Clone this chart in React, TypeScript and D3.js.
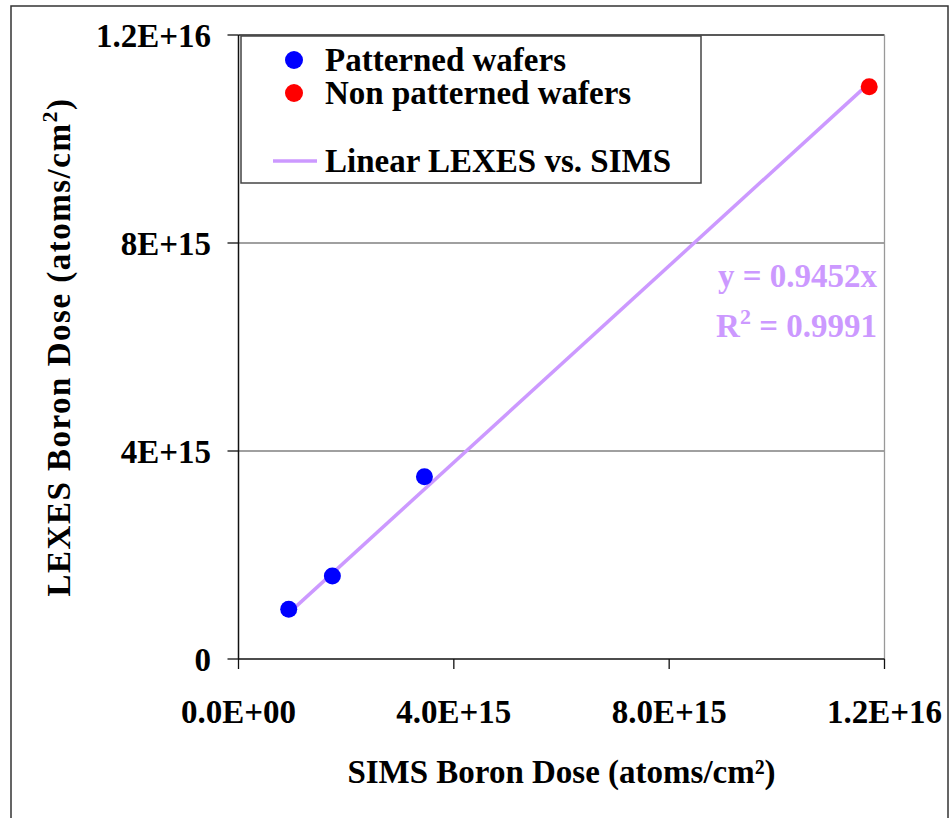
import React from "react";
import * as d3 from "d3";

const patternedX = [0.933e15, 1.744e15, 3.454e15];
const patternedY = [0.956e15, 1.596e15, 3.506e15];
const nonPatternedX = [11.716e15];
const nonPatternedY = [11.006e15];
const slope = 0.9452;
const r2Text = "0.9991";
const xTickValues = [0, 4e15, 8e15, 1.2e16];
const xTickLabels = ["0.0E+00", "4.0E+15", "8.0E+15", "1.2E+16"];
const yTickValues = [0, 4e15, 8e15, 1.2e16];
const yTickLabels = ["0", "4E+15", "8E+15", "1.2E+16"];
const legendLabels = ["Patterned wafers", "Non patterned wafers", "Linear LEXES vs. SIMS"];

const W = 950;
const H = 818;
const L = 238.5;
const R = 884.5;
const T = 35;
const B = 659;
const FONT = "'Liberation Serif', 'Times New Roman', serif";
const PURPLE = "#CC99FF";

export default function App() {
  const x = d3.scaleLinear().domain([0, 1.2e16]).range([L, R]);
  const y = d3.scaleLinear().domain([0, 1.2e16]).range([B, T]);
  const allX = [...patternedX, ...nonPatternedX];
  const xMin = d3.min(allX) as number;
  const xMax = d3.max(allX) as number;
  const trend = d3.line<number>().x((v) => x(v)).y((v) => y(slope * v))([xMin, xMax]) as string;

  return (
    <svg
      width={W}
      height={H}
      style={{ position: "absolute", left: 0, top: 0, background: "#fff" }}
      fontFamily={FONT}
      fontWeight="bold"
    >
      <rect x={0} y={0} width={W} height={H} fill="#fff" />
      <rect x={11} y={6} width={937} height={830} fill="none" stroke="#333" strokeWidth={1.5} />

      {/* gridlines */}
      {yTickValues.slice(1).map((v, i) => (
        <line key={"g" + i} x1={L} x2={R} y1={y(v)} y2={y(v)} stroke={i === 2 ? "#222" : "#808080"} strokeWidth={1.3} />
      ))}
      {/* plot right border */}
      <line x1={R} x2={R} y1={T} y2={B} stroke="#999" strokeWidth={1.3} />

      {/* axes */}
      <line x1={L} x2={L} y1={T} y2={B} stroke="#111" strokeWidth={1.5} />
      <line x1={L} x2={R} y1={B} y2={B} stroke="#111" strokeWidth={1.5} />
      {yTickValues.map((v, i) => (
        <g key={"yt" + i}>
          <line x1={L - 11} x2={L} y1={y(v)} y2={y(v)} stroke="#111" strokeWidth={1.3} />
          <text x={211} y={y(v) + 12} textAnchor="end" fontSize={33} fill="#000">
            {yTickLabels[i]}
          </text>
        </g>
      ))}
      {xTickValues.map((v, i) => (
        <g key={"xt" + i}>
          <line x1={x(v)} x2={x(v)} y1={B} y2={B + 10} stroke="#111" strokeWidth={1.3} />
          <text x={x(v)} y={B + 64} textAnchor="middle" fontSize={33} fill="#000">
            {xTickLabels[i]}
          </text>
        </g>
      ))}

      {/* axis titles */}
      <text x={(L + R) / 2} y={783} textAnchor="middle" fontSize={33} fill="#000">
        SIMS Boron Dose (atoms/cm²)
      </text>
      <text
        transform={`translate(70, ${(T + B) / 2}) rotate(-90)`}
        textAnchor="middle"
        fontSize={33}
        letterSpacing={1.5}
        fill="#000"
      >
        LEXES Boron Dose (atoms/cm<tspan dy={-13} fontSize={22}>2</tspan>
        <tspan dy={13}>)</tspan>
      </text>

      {/* trendline */}
      <path d={trend} stroke={PURPLE} strokeWidth={3.5} fill="none" />

      {/* points */}
      {patternedX.map((v, i) => (
        <circle key={"p" + i} cx={x(v)} cy={y(patternedY[i])} r={8.5} fill="#0000FF" />
      ))}
      {nonPatternedX.map((v, i) => (
        <circle key={"n" + i} cx={x(v)} cy={y(nonPatternedY[i])} r={8.5} fill="#FF0000" />
      ))}

      {/* equation */}
      <text x={877} y={287} textAnchor="end" fontSize={33} fill={PURPLE}>
        y = {slope.toFixed(4)}x
      </text>
      <text x={877} y={337} textAnchor="end" fontSize={33} fill={PURPLE}>
        R<tspan dy={-13} fontSize={22}>2</tspan>
        <tspan dy={13}> = {r2Text}</tspan>
      </text>

      {/* legend */}
      <rect x={241} y={36} width={460} height={147} fill="#fff" stroke="#444" strokeWidth={1.5} />
      <circle cx={294} cy={60} r={9} fill="#0000FF" />
      <text x={325} y={71} fontSize={33} fill="#000">{legendLabels[0]}</text>
      <circle cx={294} cy={93} r={9} fill="#FF0000" />
      <text x={325} y={104} fontSize={33} fill="#000">{legendLabels[1]}</text>
      <line x1={273} x2={317} y1={161} y2={161} stroke={PURPLE} strokeWidth={3.5} />
      <text x={325} y={172} fontSize={33} fill="#000">{legendLabels[2]}</text>
    </svg>
  );
}
